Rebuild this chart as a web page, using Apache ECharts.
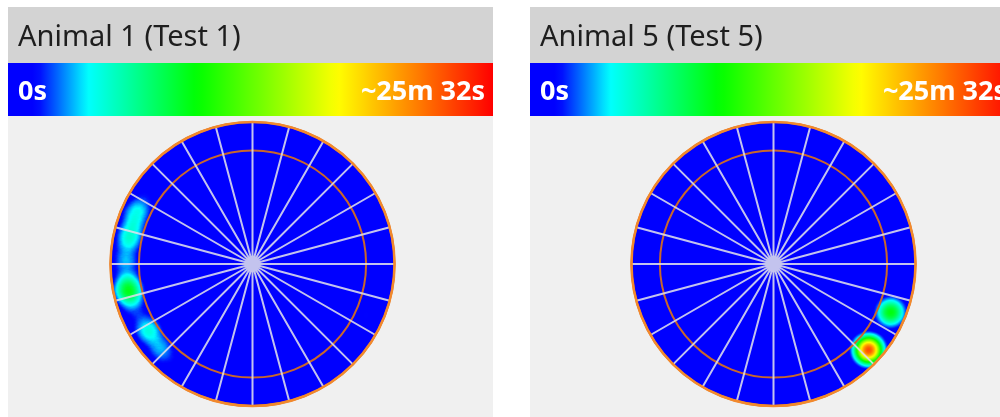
<!DOCTYPE html>
<html>
<head>
  <meta charset="utf-8">
  <script src="https://cdn.jsdelivr.net/npm/echarts@6/dist/echarts.min.js"></script>
</head>
<body style="margin: 0; background: #fff">
  <div id="container" style="width: 1000px; height: 417px"></div>
  <script type="text/javascript">
    // panel names and the two ends of the time scale
    var panelTitles = ['Animal 1 (Test 1)', 'Animal 5 (Test 5)'];
    var scaleLabels = ['0s', '~25m 32s'];

    // time spent at a spot: [x, y, share of max], arena radius = 1
    var animal1Spots = [
      [-0.76, 0.46, 0.07],
      [-0.82, 0.35, 0.2],
      [-0.86, 0.21, 0.22],
      [-0.89, 0.09, 0.12],
      [-0.89, -0.03, 0.12],
      [-0.875, -0.18, 0.4],
      [-0.84, -0.29, 0.12],
      [-0.745, -0.45, 0.18],
      [-0.69, -0.53, 0.1],
      [-0.63, -0.62, 0.12],
      [-0.5, -0.74, 0.05],
      [-0.55, 0.72, 0.04],
      [0.80, -0.36, 0.06],
      [0.55, -0.70, 0.04],
      [0.05, 0.88, 0.03]
    ];
    var animal5Spots = [
      [0.67, -0.605, 1.0],
      [0.825, -0.34, 0.42]
    ];

    var innerZone = 0.8;   // inner ring, share of arena radius
    var spokeStep = 15;    // degrees between spokes

    var panelLefts = [8, 530];
    var panelWidth = 485;
    var centers = [[252.5, 264], [773.5, 264]];
    var arenaR = 142;

    // jet-like scale as drawn in the bar
    var stops = [[0, [0, 0, 255]], [0.06, [0, 0, 255]], [0.165, [0, 255, 255]],
                 [0.39, [0, 255, 0]], [0.68, [255, 255, 0]], [1, [255, 0, 0]]];
    function jet(t) {
      for (var k = 1; k < stops.length; k++) {
        if (t <= stops[k][0]) {
          var a = stops[k - 1], b = stops[k];
          var f = (t - a[0]) / (b[0] - a[0]);
          return 'rgb(' + [0, 1, 2].map(function (j) {
            return Math.round(a[1][j] + (b[1][j] - a[1][j]) * f);
          }).join(',') + ')';
        }
      }
      return 'rgb(255,0,0)';
    }
    var jetColors = [];
    for (var i = 0; i <= 60; i++) jetColors.push(jet(i / 60));
    var barStops = jetColors.map(function (c, i) { return { offset: i / 60, color: c }; });

    // round arena outline for the geo component
    var ring = [];
    for (var i = 0; i <= 180; i++) {
      var a = i / 180 * 2 * Math.PI;
      ring.push([Math.cos(a), Math.sin(a)]);
    }
    echarts.registerMap('arena', {
      type: 'FeatureCollection',
      features: [{ type: 'Feature', properties: { name: 'arena' },
        geometry: { type: 'Polygon', coordinates: [ring] } }]
    });

    var myChart = echarts.init(document.getElementById('container'));

    var graphics = [];
    panelLefts.forEach(function (x0, i) {
      graphics.push({ type: 'rect', z: -10, silent: true,
        shape: { x: x0, y: 7, width: panelWidth, height: 56 }, style: { fill: '#d3d3d3' } });
      graphics.push({ type: 'rect', z: -10, silent: true,
        shape: { x: x0, y: 116, width: panelWidth, height: 301 }, style: { fill: '#f0f0f0' } });
      // colour bar
      graphics.push({ type: 'rect', z: 6, silent: true,
        shape: { x: x0, y: 63, width: panelWidth, height: 53 },
        style: { fill: new echarts.graphic.LinearGradient(0, 0, 1, 0, barStops) } });
      // hides heat spilling past the arena wall
      graphics.push({ type: 'ring', z: 3, silent: true,
        shape: { cx: centers[i][0], cy: centers[i][1], r0: arenaR + 0.5, r: arenaR + 14 },
        style: { fill: '#f0f0f0' } });
      graphics.push({ type: 'text', z: 100, silent: true, x: x0 + 10, y: 38,
        style: { text: panelTitles[i], fill: '#1e1e1e', font: '29px "Noto Sans"', verticalAlign: 'middle' } });
      graphics.push({ type: 'text', z: 100, silent: true, x: x0 + 10, y: 92,
        style: { text: scaleLabels[0], fill: '#fff', font: 'bold 27px "Noto Sans"', verticalAlign: 'middle' } });
      graphics.push({ type: 'text', z: 100, silent: true, x: x0 + 477, y: 92,
        style: { text: scaleLabels[1], fill: '#fff', font: 'bold 27px "Noto Sans"', align: 'right', verticalAlign: 'middle' } });
    });

    var option = {
      animation: false,
      graphic: graphics,
      geo: centers.map(function (c) {
        return {
          map: 'arena', aspectScale: 1, roam: false, silent: true,
          boundingCoords: [[-1, 1], [1, -1]],
          layoutCenter: c, layoutSize: arenaR * 2,
          itemStyle: { areaColor: '#0000ff', borderWidth: 0 },
          label: { show: false },
          emphasis: { disabled: true },
          select: { disabled: true }
        };
      }),
      polar: centers.map(function (c) { return { center: c, radius: arenaR }; }),
      angleAxis: [0, 1].map(function (i) {
        return {
          polarIndex: i, type: 'value', min: 0, max: 360, interval: spokeStep, startAngle: 90, z: 5,
          axisLine: { show: true, lineStyle: { color: '#f2892c', width: 2.5 } },
          axisTick: { show: false }, axisLabel: { show: false },
          splitLine: { show: true, lineStyle: { color: 'rgba(222,222,236,0.88)', width: 2 } }
        };
      }),
      radiusAxis: [0, 1].map(function (i) {
        return {
          polarIndex: i, type: 'value', min: 0, max: 1, interval: innerZone, z: 5,
          axisLine: { show: false }, axisTick: { show: false }, axisLabel: { show: false },
          splitLine: { show: true, lineStyle: { color: '#c9672b', width: 2 } }
        };
      }),
      visualMap: [0, 1].map(function (i) {
        return {
          type: 'continuous', seriesIndex: i, min: 0, max: 1, show: false,
          inRange: { color: jetColors }
        };
      }),
      series: [
        { type: 'heatmap', coordinateSystem: 'geo', geoIndex: 0, data: animal1Spots,
          pointSize: 12, blurSize: 12, minOpacity: 1, maxOpacity: 1, silent: true },
        { type: 'heatmap', coordinateSystem: 'geo', geoIndex: 1, data: animal5Spots,
          pointSize: 12, blurSize: 12, minOpacity: 1, maxOpacity: 1, silent: true }
      ]
    };

    myChart.setOption(option);
    window.addEventListener('resize', myChart.resize);
  </script>
</body>
</html>
